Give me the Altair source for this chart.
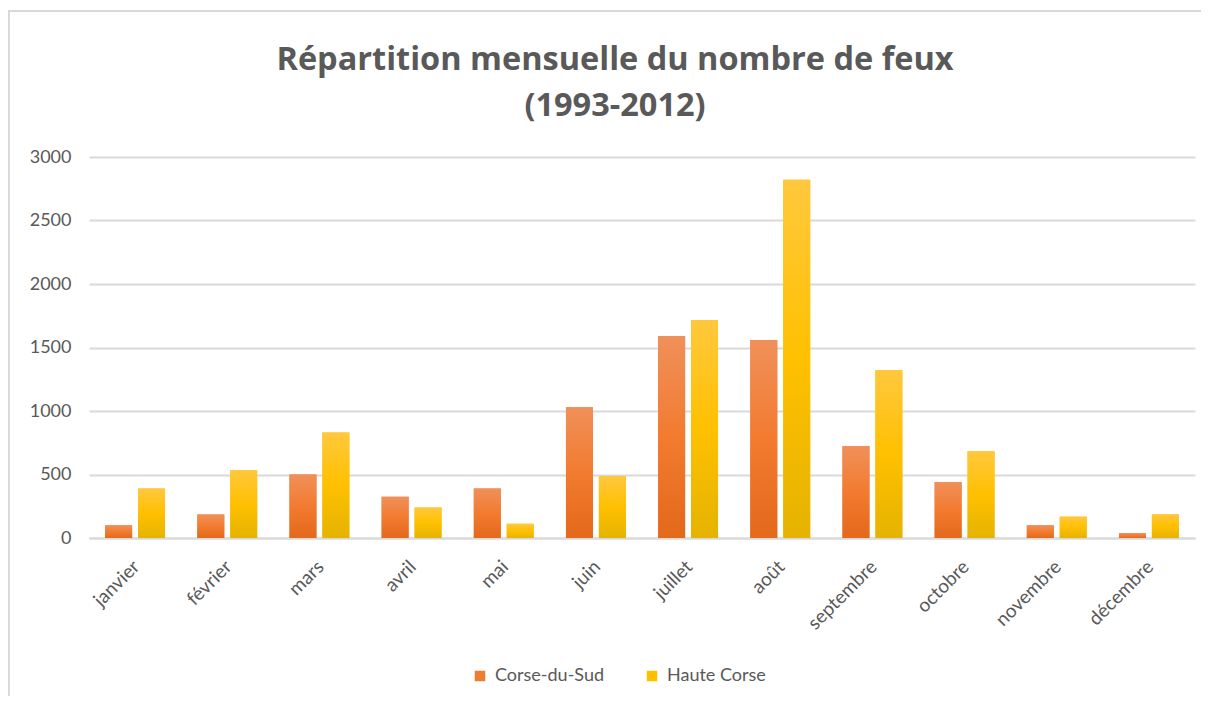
import altair as alt
import pandas as pd

months = ["janvier", "février", "mars", "avril", "mai", "juin", "juillet",
          "août", "septembre", "octobre", "novembre", "décembre"]
series = ["Corse-du-Sud", "Haute Corse"]
corse_du_sud = [100, 185, 500, 325, 390, 1030, 1590, 1560, 725, 440, 100, 38]
haute_corse = [390, 535, 830, 240, 112, 487, 1716, 2820, 1320, 683, 168, 186]
y_ticks = [0, 500, 1000, 1500, 2000, 2500, 3000]

rows = []
for m, a, b in zip(months, corse_du_sud, haute_corse):
    rows.append({"mois": m, "serie": series[0], "feux": a})
    rows.append({"mois": m, "serie": series[1], "feux": b})
df = pd.DataFrame(rows)

FONT = "Lato"
TXT = "#595959"
GRID = "#d9d9d9"

x_enc = alt.X("mois:N", sort=months,
              scale=alt.Scale(paddingInner=0.35, paddingOuter=0.175),
              axis=alt.Axis(title=None, labelAngle=-45, labelFontSize=19,
                            labelColor=TXT, labelFont=FONT, ticks=False,
                            domainColor=GRID, domainWidth=2, labelPadding=19,
                            labelOffset=-5, grid=False))
xo_enc = alt.XOffset("serie:N", sort=series,
                     scale=alt.Scale(paddingInner=0.18, paddingOuter=0))
y_enc = alt.Y("feux:Q", scale=alt.Scale(domain=[0, 3000]),
              axis=alt.Axis(title=None, values=y_ticks, format="d", labelFontSize=18,
                            labelColor=TXT, labelFont=FONT, ticks=False,
                            domain=False, gridColor=GRID, gridWidth=2,
                            labelPadding=18))

frame = alt.Chart(pd.DataFrame({"a": [0]})).mark_rect(
    filled=False, stroke="#d9d9d9", strokeWidth=2
).encode(x=alt.value(-80), x2=alt.value(1140), y=alt.value(-146), y2=alt.value(580))

base = alt.Chart(df).mark_bar().encode(
    x=x_enc, xOffset=xo_enc, y=y_enc,
    color=alt.Color("serie:N", sort=series,
                    scale=alt.Scale(domain=series, range=["#ED7D31", "#FFC000"]),
                    legend=alt.Legend(title=None, orient="none", direction="horizontal",
                                      legendX=382, legendY=510, labelFontSize=18,
                                      labelColor=TXT, labelFont=FONT,
                                      symbolType="square", symbolSize=110,
                                      symbolStrokeWidth=0, columnPadding=38,
                                      labelOffset=6))
)

grad_cds = alt.Gradient(gradient="linear", x1=0, y1=0, x2=0, y2=1, stops=[
    alt.GradientStop(offset=0, color="#F0905A"),
    alt.GradientStop(offset=0.5, color="#F27B30"),
    alt.GradientStop(offset=1, color="#E3691B")])
grad_hc = alt.Gradient(gradient="linear", x1=0, y1=0, x2=0, y2=1, stops=[
    alt.GradientStop(offset=0, color="#FFC83D"),
    alt.GradientStop(offset=0.5, color="#FFC000"),
    alt.GradientStop(offset=1, color="#E5B300")])

over_cds = alt.Chart(df).transform_filter(alt.datum.serie == series[0]).mark_bar(
    color=grad_cds).encode(x=x_enc, xOffset=xo_enc, y=y_enc)
over_hc = alt.Chart(df).transform_filter(alt.datum.serie == series[1]).mark_bar(
    color=grad_hc).encode(x=x_enc, xOffset=xo_enc, y=y_enc)

chart = alt.layer(frame, base, over_cds, over_hc).properties(
    width=1106, height=381,
    autosize=alt.AutoSizeParams(type="none"),
    padding={"left": 81, "top": 149, "right": 6, "bottom": 158},
    title=alt.Title(["Répartition mensuelle du nombre de feux", "(1993-2012)"],
                    font="Open Sans", fontSize=32.5, fontWeight="bold", color=TXT,
                    anchor="middle", frame="group", dx=-27, dy=112, offset=0,
                    lineHeight=46),
).configure_view(stroke=None)

chart.save("out.html", embed_options={"renderer": "svg", "actions": False})
